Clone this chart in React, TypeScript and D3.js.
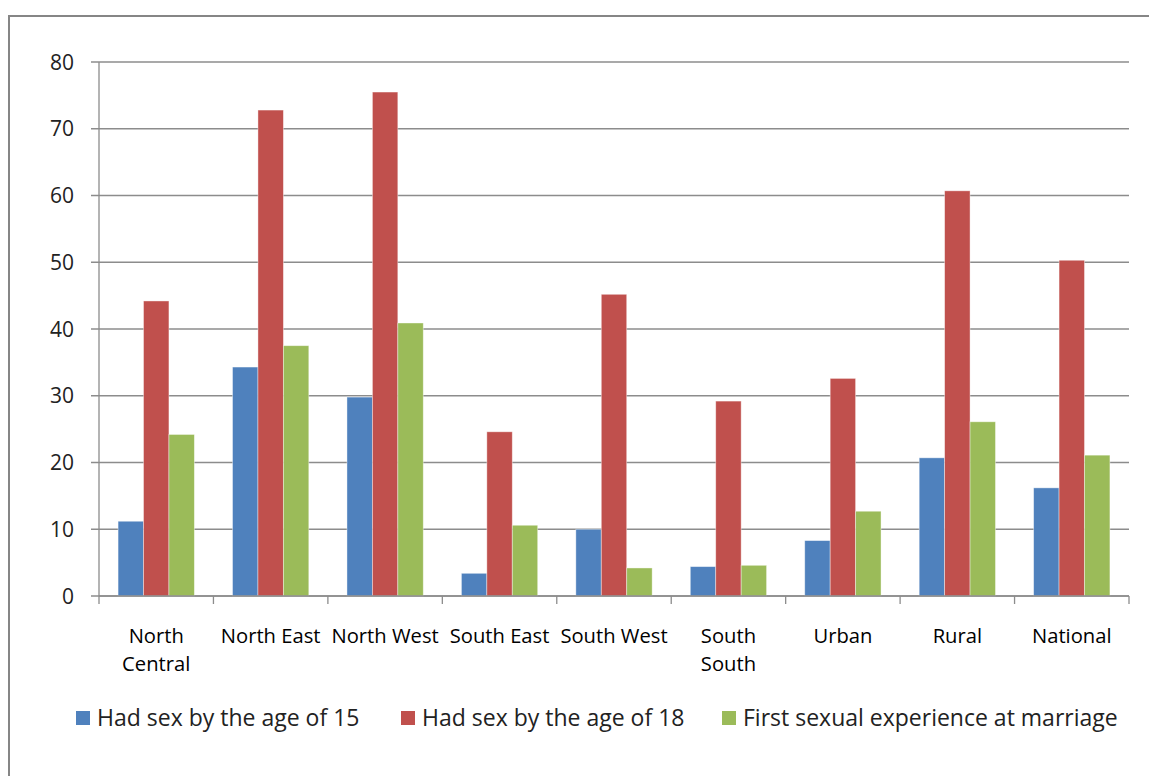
import React from 'react';
import * as d3 from 'd3';

const categories = [
  ['North', 'Central'],
  ['North East'],
  ['North West'],
  ['South East'],
  ['South West'],
  ['South', 'South'],
  ['Urban'],
  ['Rural'],
  ['National'],
];
const seriesNames = [
  'Had sex by the age of 15',
  'Had sex by the age of 18',
  'First sexual experience at marriage',
];
const by15 = [11.2, 34.3, 29.8, 3.4, 10.0, 4.4, 8.3, 20.7, 16.2];
const by18 = [44.2, 72.8, 75.5, 24.6, 45.2, 29.2, 32.6, 60.7, 50.3];
const atMarriage = [24.2, 37.5, 40.9, 10.6, 4.2, 4.6, 12.7, 26.1, 21.1];
const yTicks = [0, 10, 20, 30, 40, 50, 60, 70, 80];
const colors = ['#4F81BD', '#C0504D', '#9BBB59'];

const W = 1149;
const H = 776;
const font = '"Open Sans", Lato, sans-serif';

export default function App() {
  const series = [by15, by18, atMarriage];
  const keys = categories.map(c => c.join(' '));
  const x = d3.scaleBand<string>().domain(keys).range([99, 1129]);
  const y = d3.scaleLinear().domain([0, 80]).range([596, 62]);
  const gw = x.bandwidth() * (3 / 4.5);
  const off = (x.bandwidth() - gw) / 2;
  const sub = d3.scaleBand<number>().domain([0, 1, 2]).range([0, gw]);
  const left = x.range()[0];
  const right = x.range()[1];

  const legendX = [76, 401, 722];

  return (
    <svg
      width={W}
      height={H}
      style={{ position: 'absolute', left: 0, top: 0, background: '#fff' }}
    >
      <rect x={9} y={16} width={W + 10} height={H + 10} fill="#fff" stroke="#868686" strokeWidth={2} />

      {/* gridlines and y ticks */}
      {yTicks.map(t => (
        <g key={t}>
          <line x1={left - 8} x2={right} y1={y(t)} y2={y(t)} stroke="#8c8c8c" strokeWidth={1.3} />
          <text
            x={74}
            y={y(t)}
            dy="0.36em"
            textAnchor="end"
            fontFamily={font}
            fontSize={21}
            fill="#222"
          >
            {t}
          </text>
        </g>
      ))}
      <line x1={left} x2={left} y1={y(80)} y2={y(0)} stroke="#8c8c8c" strokeWidth={1.3} />

      {/* bars */}
      {keys.map((k, i) => (
        <g key={k} transform={`translate(${(x(k) as number) + off},0)`}>
          {series.map((s, j) => (
            <rect
              key={j}
              x={sub(j)}
              y={y(s[i])}
              width={sub.bandwidth()}
              height={y(0) - y(s[i])}
              fill={colors[j]}
              stroke="#fff"
              strokeOpacity={0.5}
              strokeWidth={0.8}
            />
          ))}
        </g>
      ))}

      {/* x axis */}
      <line x1={left} x2={right} y1={y(0)} y2={y(0)} stroke="#8c8c8c" strokeWidth={1.3} />
      {d3.range(keys.length + 1).map(i => {
        const px = left + i * x.step();
        return <line key={i} x1={px} x2={px} y1={y(0)} y2={y(0) + 8} stroke="#8c8c8c" strokeWidth={1.3} />;
      })}
      {categories.map((c, i) => (
        <text
          key={keys[i]}
          x={(x(keys[i]) as number) + x.bandwidth() / 2}
          y={643}
          textAnchor="middle"
          fontFamily={font}
          fontSize={20.2}
          fill="#000"
        >
          {c.map((line, li) => (
            <tspan key={li} x={(x(keys[i]) as number) + x.bandwidth() / 2} dy={li === 0 ? 0 : 28}>
              {line}
            </tspan>
          ))}
        </text>
      ))}

      {/* legend */}
      {seriesNames.map((n, j) => (
        <g key={n}>
          <rect x={legendX[j]} y={711} width={14} height={14} fill={colors[j]} />
          <text x={legendX[j] + 21} y={726} fontFamily={font} fontSize={23} fill="#222">
            {n}
          </text>
        </g>
      ))}
    </svg>
  );
}
